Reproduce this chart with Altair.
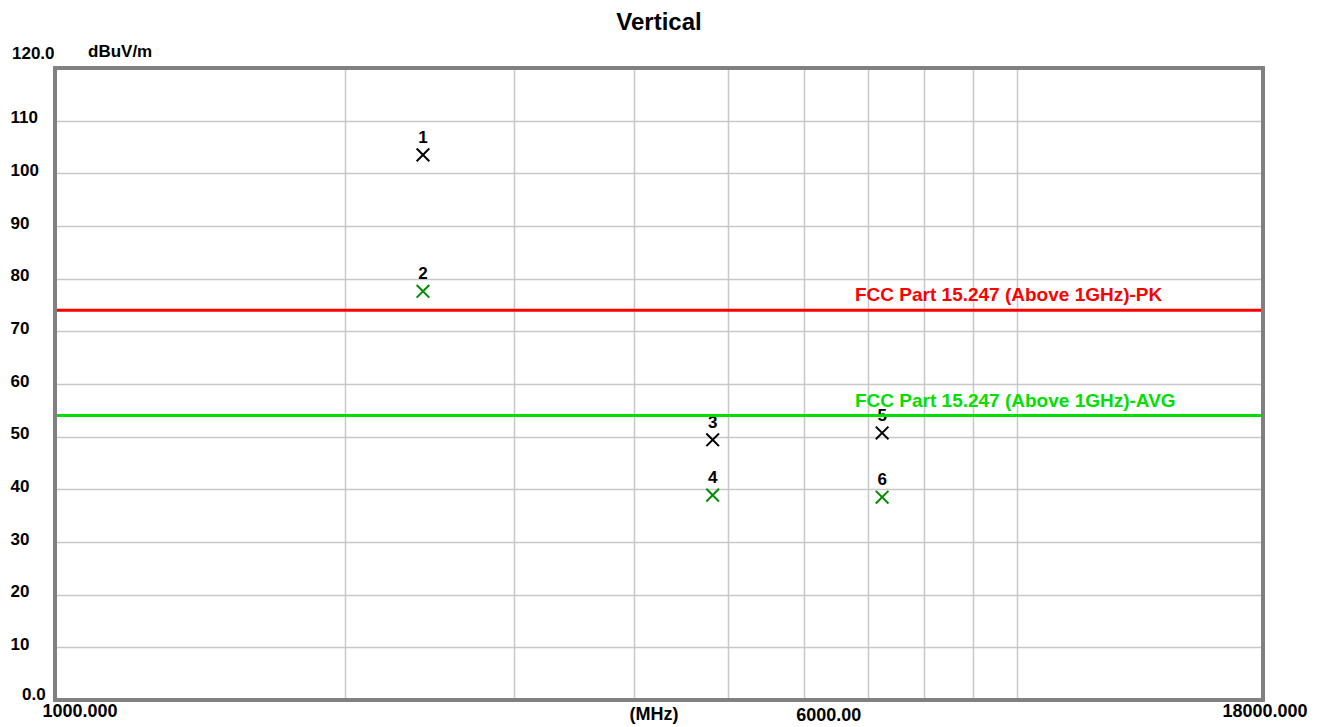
import altair as alt
import pandas as pd

# ---- data ----
chart_title = "Vertical"
marker_no = ["1", "2", "3", "4", "5", "6"]
freq_mhz = [2412, 2412, 4824, 4824, 7236, 7236]
level_dbuv = [103.5, 77.6, 49.4, 38.9, 50.7, 38.5]
detector = ["PK", "AV", "PK", "AV", "PK", "AV"]

limit_names = ["FCC Part 15.247 (Above 1GHz)-PK", "FCC Part 15.247 (Above 1GHz)-AVG"]
limit_values = [74, 54]
limit_kind = ["PK", "AV"]

x_grid_vals = [2000, 3000, 4000, 5000, 6000, 7000, 8000, 9000, 10000]
y_grid_vals = [10, 20, 30, 40, 50, 60, 70, 80, 90, 100, 110]
x_tick_vals = [1000, 6000, 18000]
x_tick_text = ["1000.000", "6000.00", "18000.000"]

W, H = 1208, 632
FONT = "Liberation Sans"

pts = pd.DataFrame({"no": marker_no, "freq": freq_mhz, "level": level_dbuv, "det": detector})
lims = pd.DataFrame({"name": limit_names, "value": limit_values, "kind": limit_kind})

xscale = alt.Scale(type="log", domain=[1000, 18000], nice=False)
yscale = alt.Scale(domain=[0, 120], nice=False, zero=False)

xax = alt.Axis(values=x_grid_vals, labels=False, ticks=False, domain=False, grid=True,
               gridColor="#C8C8C8", gridWidth=1.5, title=None)
yax = alt.Axis(values=y_grid_vals, labelAlign="left", labelPadding=45, labelBaseline="middle",
               labelOffset=-3, labelFont=FONT, labelFontSize=17, labelFontWeight="bold",
               labelColor="#000000", ticks=False, domain=False, grid=True,
               gridColor="#C8C8C8", gridWidth=1.5, title=None, labelExpr="datum.value")

det_color = alt.Color("det:N", scale=alt.Scale(domain=["PK", "AV"], range=["#000000", "#008C00"]), legend=None)

base = alt.Chart(pts)

grid = base.mark_point(opacity=0).encode(
    x=alt.X("freq:Q", scale=xscale, axis=xax),
    y=alt.Y("level:Q", scale=yscale, axis=yax),
)

frame = base.mark_rect(fillOpacity=0, stroke="#808080", strokeWidth=3).encode(
    x=alt.value(0), x2=alt.value(W), y=alt.value(0), y2=alt.value(H)
)

xmarks = base.mark_point(shape="M-1,-1L1,1M1,-1L-1,1", size=160, strokeWidth=2, filled=False, opacity=1).encode(
    x=alt.X("freq:Q", scale=xscale),
    y=alt.Y("level:Q", scale=yscale),
    stroke=det_color,
)

nums = base.mark_text(dy=-17, font=FONT, fontSize=17, fontWeight="bold", color="#000000").encode(
    x=alt.X("freq:Q", scale=xscale),
    y=alt.Y("level:Q", scale=yscale),
    text="no:N",
)

lim_color = alt.Color("kind:N", scale=alt.Scale(domain=["PK", "AV"], range=["#FF0000", "#00E000"]), legend=None)

lim_lines = alt.Chart(lims).mark_rule(strokeWidth=3).encode(
    y=alt.Y("value:Q", scale=yscale),
    color=lim_color,
)

lim_text = alt.Chart(lims).mark_text(align="left", baseline="bottom", dy=-5, font=FONT,
                                      fontSize=19, fontWeight="bold").encode(
    x=alt.value(800),
    y=alt.Y("value:Q", scale=yscale),
    text="name:N",
    color=lim_color,
)

# x tick labels
xlab_df = pd.DataFrame({"v": x_tick_vals, "t": x_tick_text})
x_dx = [25, 25, 2]
x_dy = [12, 16, 12]
xlabs = []
for i in range(len(x_tick_vals)):
    xlabs.append(
        alt.Chart(xlab_df.iloc[[i]]).mark_text(dx=x_dx[i], baseline="middle", font=FONT,
                                              fontSize=18, fontWeight="bold", color="#000000").encode(
            x=alt.X("v:Q", scale=xscale),
            y=alt.value(H + x_dy[i]),
            text="t:N",
        )
    )

text_df = pd.DataFrame({"t": ["(MHz)", "120.0", "0.0", "dBuV/m", chart_title]})
mhz = alt.Chart(text_df.iloc[[0]]).mark_text(baseline="middle", font=FONT, fontSize=18,
                                            fontWeight="bold", color="#000000").encode(
    x=alt.value(599), y=alt.value(H + 15), text="t:N")
y_top = alt.Chart(text_df.iloc[[1]]).mark_text(align="left", baseline="middle", font=FONT, fontSize=17,
                                              fontWeight="bold", color="#000000").encode(
    x=alt.value(-43), y=alt.value(-14), text="t:N")
y_bot = alt.Chart(text_df.iloc[[2]]).mark_text(align="left", baseline="middle", font=FONT, fontSize=17,
                                              fontWeight="bold", color="#000000").encode(
    x=alt.value(-33), y=alt.value(H - 5), text="t:N")
unit = alt.Chart(text_df.iloc[[3]]).mark_text(align="left", baseline="middle", font=FONT, fontSize=17,
                                             fontWeight="bold", color="#000000").encode(
    x=alt.value(33), y=alt.value(-16), text="t:N")
title = alt.Chart(text_df.iloc[[4]]).mark_text(align="center", baseline="alphabetic", font=FONT, fontSize=24,
                                              fontWeight="bold", color="#000000").encode(
    x=alt.value(W / 2), y=alt.value(-38), text="t:N")

chart = alt.layer(grid, xmarks, nums, lim_lines, lim_text, frame, *xlabs, mhz, y_top, y_bot, unit, title).properties(
    width=W, height=H,
    autosize=alt.AutoSizeParams(type="none"),
    padding={"left": 47, "top": 60, "right": 50, "bottom": 24},
).configure_view(stroke=None).configure(background="#FFFFFF")

chart.save("out.html", embed_options={"renderer": "svg", "actions": False})
